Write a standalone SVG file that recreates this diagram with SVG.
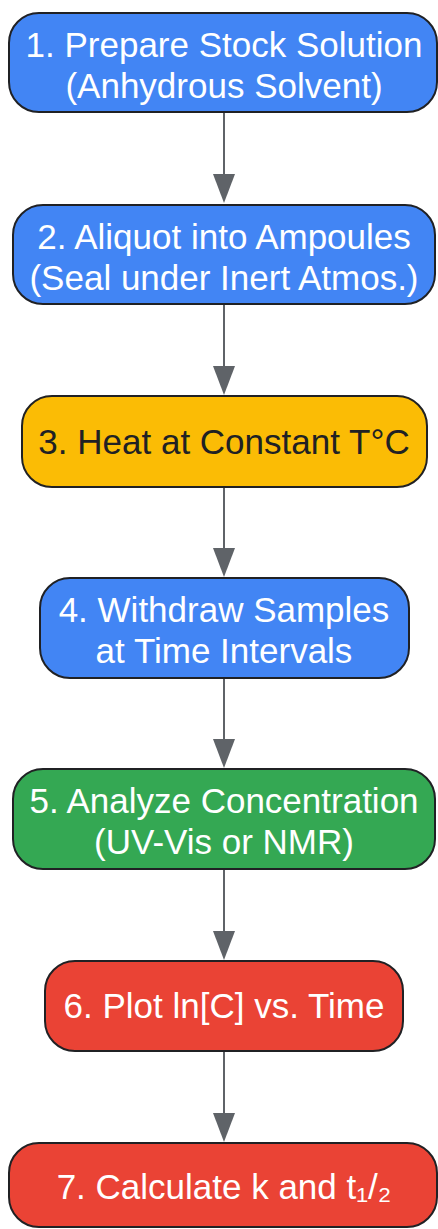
<svg xmlns="http://www.w3.org/2000/svg" width="438" height="1229" viewBox="0 0 438 1229">
<defs>
<style>
.n{stroke:#202124;stroke-width:2}
.b{fill:#4285f4}.y{fill:#fbbc05}.g{fill:#34a853}.r{fill:#ea4335}
text{font-family:"Liberation Sans",Arial,sans-serif;font-size:35px;text-anchor:middle}
.w{fill:#ffffff}.d{fill:#202124}
.e{stroke:#5f6368;stroke-width:2;fill:none}
.h{fill:#5f6368}
</style>
</defs>
<rect width="438" height="1229" fill="#ffffff"/>
<g id="connectors">
<path class="e" d="M224,112 V174"/><path class="h" d="M213,174 L235,174 L224,203 Z"/>
<path class="e" d="M224,304 V366"/><path class="h" d="M213,366 L235,366 L224,395 Z"/>
<path class="e" d="M224,487 V548"/><path class="h" d="M213,548 L235,548 L224,577 Z"/>
<path class="e" d="M224,678 V739"/><path class="h" d="M213,739 L235,739 L224,768 Z"/>
<path class="e" d="M224,869 V931"/><path class="h" d="M213,931 L235,931 L224,960 Z"/>
<path class="e" d="M224,1051 V1113"/><path class="h" d="M213,1113 L235,1113 L224,1142 Z"/>
</g>
<g id="node1"><rect class="n b" x="9" y="13" width="428" height="99" rx="30"/><text class="w" x="224" y="57">1. Prepare Stock Solution</text><text class="w" x="224" y="98">(Anhydrous Solvent)</text></g>
<g id="node2"><rect class="n b" x="13" y="205" width="422" height="99" rx="30"/><text class="w" x="224" y="249">2. Aliquot into Ampoules</text><text class="w" x="224" y="290">(Seal under Inert Atmos.)</text></g>
<g id="node3"><rect class="n y" x="22" y="396" width="405" height="91" rx="30"/><text class="d" x="224" y="454">3. Heat at Constant T°C</text></g>
<g id="node4"><rect class="n b" x="40" y="578" width="369" height="100" rx="30"/><text class="w" x="224" y="622">4. Withdraw Samples</text><text class="w" x="224" y="663">at Time Intervals</text></g>
<g id="node5"><rect class="n g" x="13" y="769" width="422" height="100" rx="30"/><text class="w" x="224" y="813">5. Analyze Concentration</text><text class="w" x="224" y="854">(UV-Vis or NMR)</text></g>
<g id="node6"><rect class="n r" x="45" y="961" width="358" height="90" rx="30"/><text class="w" x="224" y="1018">6. Plot ln[C] vs. Time</text></g>
<g id="node7"><rect class="n r" x="9" y="1143" width="428" height="84" rx="30"/><text class="w" x="224" y="1199">7. Calculate k and t₁/₂</text></g>
</svg>
